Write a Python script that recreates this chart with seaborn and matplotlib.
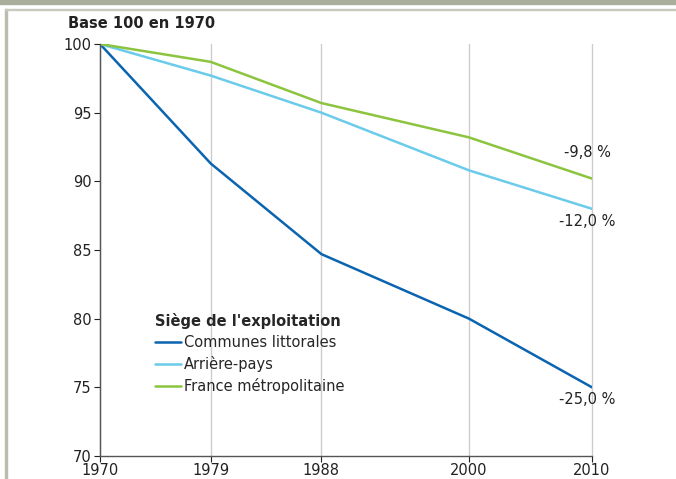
import matplotlib
matplotlib.use("Agg")
import matplotlib.pyplot as plt
import seaborn as sns
import pandas as pd
from matplotlib.lines import Line2D
from matplotlib.patches import Rectangle

years = [1970, 1979, 1988, 2000, 2010]
communes = [100, 91.3, 84.7, 80.0, 75.0]
arriere = [100, 97.7, 95.0, 90.8, 88.0]
france = [100, 98.7, 95.7, 93.2, 90.2]
series_names = ["Communes littorales", "Arrière-pays", "France métropolitaine"]
end_labels = ["-25,0 %", "-12,0 %", "-9,8 %"]
colors = ["#0a64b0", "#6acbea", "#8cc43f"]
yticks = [70, 75, 80, 85, 90, 95, 100]

df = pd.DataFrame({
    "year": years * 3,
    "value": communes + arriere + france,
    "serie": [series_names[0]] * 5 + [series_names[1]] * 5 + [series_names[2]] * 5,
})

sns.set_theme(style="white")
plt.rcParams["font.family"] = ["DejaVu Sans"]

fig = plt.figure(figsize=(6.76, 4.79), dpi=100)
ax = fig.add_axes([100 / 676, 1 - 456 / 479, (592 - 100) / 676, (456 - 44) / 479])

# frame decoration
fig.patches.append(Rectangle((0, 1 - 4 / 479), 1, 4 / 479, transform=fig.transFigure,
                             color="#a9ad9c", zorder=0))
fig.patches.append(Rectangle((5 / 676, 0), 2 / 676, 1 - 9 / 479, transform=fig.transFigure,
                             color="#b9bdae", zorder=0))
fig.patches.append(Rectangle((5 / 676, 1 - 10 / 479), 1, 1.2 / 479, transform=fig.transFigure,
                             color="#c7cabd", zorder=0))

for x in years:
    ax.axvline(x, color="#cccccc", lw=1, zorder=0, clip_on=False)

sns.lineplot(data=df, x="year", y="value", hue="serie", palette=colors,
             hue_order=series_names, ax=ax, lw=1.8, legend=False)

ax.set_xlim(1970, 2010)
ax.set_ylim(70, 100)
ax.set_xticks(years)
ax.set_xticklabels([str(y) for y in years])
ax.set_yticks(yticks)
ax.set_xlabel("")
ax.set_ylabel("")
for s in ["top", "right"]:
    ax.spines[s].set_visible(False)
for s in ["left", "bottom"]:
    ax.spines[s].set_color("#555555")
    ax.spines[s].set_linewidth(1)
ax.tick_params(axis="both", labelsize=10.5, colors="#222222", length=4, width=0.8,
               direction="out", pad=1, bottom=True, left=True)
ax.tick_params(axis="y", pad=2)

fig.text(68 / 676, 1 - 23 / 479, "Base 100 en 1970", fontsize=10.5, fontweight="bold",
         color="#222222", va="center", ha="left")

label_y = [75.0 - 0.9, 88.0 - 0.9, 90.2 + 1.9]
for lab, yv in zip(end_labels, label_y):
    ax.text(2009.6, yv, lab, fontsize=10.5, color="#222222", ha="center", va="center")

handles = [Line2D([0], [0], color=c, lw=1.8) for c in colors]
leg = ax.legend(handles, series_names, title="Siège de l'exploitation", loc="upper left",
                bbox_to_anchor=(55 / 492, 1 - (313 - 44) / 412), frameon=False,
                fontsize=10.5, handlelength=1.8, handletextpad=0.2, labelspacing=0.42,
                borderaxespad=0, borderpad=0)
leg.get_title().set_fontweight("bold")
leg.get_title().set_fontsize(10.5)
leg._legend_box.align = "left"

fig.savefig("out.png", dpi=100)
